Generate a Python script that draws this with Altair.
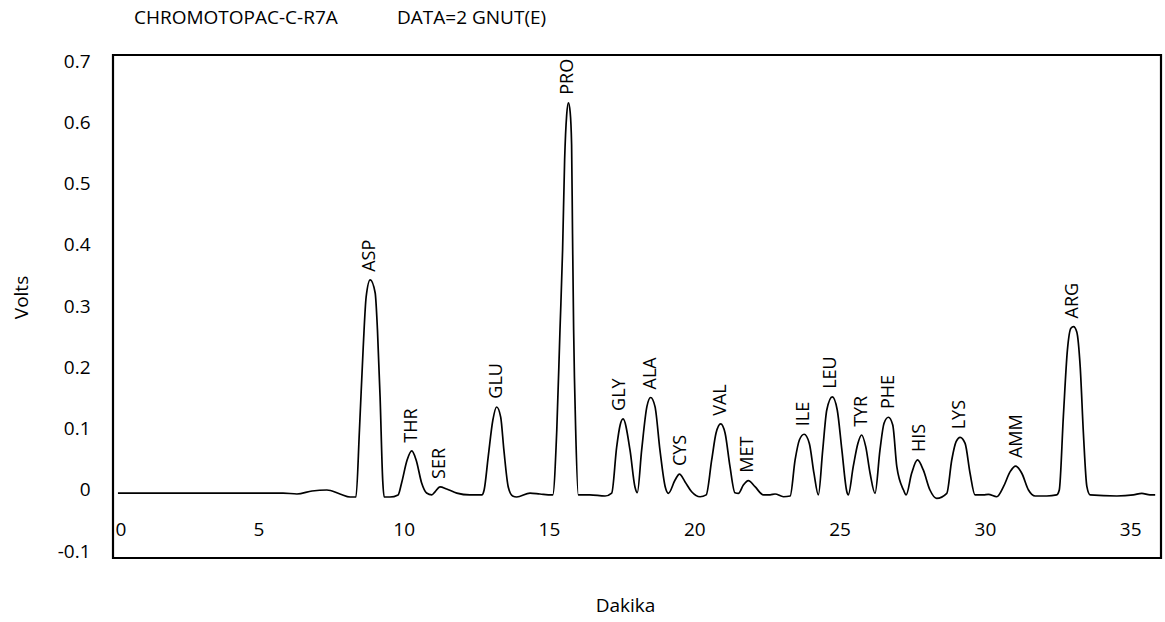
import altair as alt
import pandas as pd

# ---- chromatogram trace (minutes, volts) ----
retention_min = [
    0.17, 2.99, 5.85, 6.33, 6.85, 7.36, 7.81, 8.16,
    8.36, 8.48, 8.61, 8.71, 8.85, 9.02, 9.10, 9.19, 9.28, 9.33,
    9.53, 9.81, 9.93, 10.12, 10.28, 10.43, 10.62, 10.79, 10.97,
    11.08, 11.25, 11.48, 11.83, 12.28, 12.69,
    12.77, 12.91, 13.07, 13.20, 13.34, 13.45, 13.60, 13.75, 13.89,
    14.35, 14.69, 15.10,
    15.13, 15.27, 15.38, 15.47, 15.54, 15.61, 15.67, 15.73, 15.78, 15.81, 15.85, 15.92, 16.01,
    16.41, 16.93, 17.16,
    17.33, 17.45, 17.55, 17.79, 17.96, 18.04,
    18.19, 18.37, 18.50, 18.65, 18.82, 19.00, 19.11,
    19.34, 19.49, 19.68, 19.91, 20.20, 20.41,
    20.60, 20.75, 20.91, 21.06, 21.23, 21.40, 21.52,
    21.69, 21.86, 22.09, 22.38, 22.61, 22.78, 23.07, 23.30,
    23.47, 23.62, 23.78, 23.96, 24.12, 24.27,
    24.42, 24.56, 24.75, 24.92, 25.08, 25.25, 25.30,
    25.47, 25.63, 25.76, 25.90, 26.05, 26.22,
    26.39, 26.53, 26.68, 26.83, 26.97, 27.20, 27.29,
    27.48, 27.68, 27.88, 28.11, 28.34,
    28.69, 28.86, 29.01, 29.15, 29.32, 29.49, 29.66,
    29.95, 30.12, 30.41,
    30.64, 30.87, 31.06, 31.27, 31.50, 31.73, 32.13, 32.47,
    32.56, 32.70, 32.84, 32.96, 33.05, 33.16, 33.28, 33.39, 33.51, 33.62,
    34.54, 35.11, 35.40, 35.68, 35.86,
]
signal_volts = [
    -0.005, -0.005, -0.005, -0.0065, -0.0016, 0.0, -0.0065, -0.0114,
    -0.0114, 0.098, 0.2335, 0.315, 0.343, 0.322, 0.261, 0.152, 0.016, -0.0114,
    -0.0114, -0.008, 0.0114, 0.049, 0.0637, 0.049, 0.0114, -0.005, -0.008,
    -0.003, 0.005, 0.0016, -0.005, -0.008, -0.008,
    0.0, 0.054, 0.114, 0.1355, 0.119, 0.065, 0.005, -0.0098, -0.0114,
    -0.005, -0.0065, -0.008,
    -0.008, 0.098, 0.261, 0.392, 0.539, 0.612, 0.632, 0.617, 0.563, 0.4245, 0.261, 0.098, -0.008,
    -0.008, -0.0098, -0.005,
    0.070, 0.106, 0.116, 0.065, 0.005, -0.0044,
    0.065, 0.136, 0.151, 0.136, 0.065, 0.0054, -0.0054,
    0.0163, 0.026, 0.0136, -0.0028, -0.011, -0.008,
    0.049, 0.093, 0.108, 0.093, 0.038, -0.0044, -0.0054,
    0.008, 0.0152, 0.0054, -0.008, -0.008, -0.0065, -0.011, -0.0098,
    0.049, 0.082, 0.091, 0.076, 0.027, -0.008,
    0.065, 0.1306, 0.152, 0.1306, 0.065, -0.0028, -0.008,
    0.038, 0.076, 0.0898, 0.0707, 0.0273, -0.0054,
    0.065, 0.109, 0.1187, 0.106, 0.038, 0.0, -0.008,
    0.0273, 0.049, 0.0327, 0.0, -0.0136,
    -0.0054, 0.049, 0.079, 0.086, 0.076, 0.0273, -0.008,
    -0.008, -0.007, -0.011,
    0.0054, 0.030, 0.039, 0.0273, 0.0, -0.0098, -0.0098, -0.008,
    0.0, 0.1197, 0.2286, 0.264, 0.2666, 0.2584, 0.201, 0.0926, 0.0054, -0.008,
    -0.0098, -0.008, -0.0054, -0.008, -0.008,
]

# ---- peak labels (amino acid, apex time, apex height) ----
peak_names = ["ASP", "THR", "SER", "GLU", "PRO", "GLY", "ALA", "CYS", "VAL",
              "MET", "ILE", "LEU", "TYR", "PHE", "HIS", "LYS", "AMM", "ARG"]
peak_times = [8.85, 10.28, 11.25, 13.20, 15.67, 17.45, 18.50, 19.55, 20.91,
              21.86, 23.78, 24.72, 25.76, 26.70, 27.78, 29.15, 31.10, 33.02]
peak_heights = [0.343, 0.064, 0.005, 0.136, 0.632, 0.116, 0.151, 0.026, 0.108,
                0.015, 0.091, 0.152, 0.090, 0.119, 0.049, 0.086, 0.039, 0.267]

x_ticks = [0, 5, 10, 15, 20, 25, 30, 35]
y_ticks = [-0.1, 0, 0.1, 0.2, 0.3, 0.4, 0.5, 0.6, 0.7]

trace = pd.DataFrame({"t": retention_min, "v": signal_volts})
peaks = pd.DataFrame({"name": peak_names, "t": peak_times, "v": peak_heights})

FONT = "Open Sans"

x_scale = alt.Scale(domain=[0, 36.06], nice=False, zero=False)
y_scale = alt.Scale(domain=[-0.111, 0.71], nice=False, zero=False)

x_axis = alt.Axis(
    values=x_ticks, format="d", grid=False, domain=False, ticks=False, tickSize=0,
    labelPadding=-29, labelBaseline="middle", labelFlush=True, labelFlushOffset=-2,
    labelFontSize=19, labelFont=FONT, labelColor="black",
    title="Dakika", titleFont=FONT, titleFontSize=19, titleFontWeight="normal",
    titleColor="black", titleX=512, titleY=47, titleBaseline="middle", titleAlign="center",
)
y_axis = alt.Axis(
    values=y_ticks, grid=False, domain=False, ticks=False, tickSize=0,
    labelPadding=23, labelFontSize=19, labelFont=FONT, labelColor="black",
    labelExpr="datum.value == 0 ? '0' : (datum.value < 0 ? '-' + format(-datum.value, '.1f') : format(datum.value, '.1f'))",
    title="Volts", titleFont=FONT, titleFontSize=19, titleFontWeight="normal",
    titleColor="black", titleX=-92, titleY=242, titleBaseline="middle", titleAlign="center",
    titleAngle=270,
)

line = alt.Chart(trace).mark_line(
    color="black", strokeWidth=1.7, interpolate="monotone"
).encode(
    x=alt.X("t:Q", scale=x_scale, axis=x_axis),
    y=alt.Y("v:Q", scale=y_scale, axis=y_axis),
    order="t:Q",
)

labels = alt.Chart(peaks).mark_text(
    angle=270, align="left", baseline="middle", dx=8,
    font=FONT, fontSize=18, color="black",
).encode(
    x=alt.X("t:Q", scale=x_scale),
    y=alt.Y("v:Q", scale=y_scale),
    text="name:N",
)

chart = alt.layer(line, labels).properties(
    width=1048,
    height=503,
    autosize="none",
    padding={"left": 113, "top": 55, "right": 4, "bottom": 64},
    title=alt.TitleParams(
        text="CHROMOTOPAC-C-R7A" + "\u00a0" * 12 + "DATA=2 GNUT(E)",
        anchor="start", frame="group", dx=21, offset=24,
        font=FONT, fontSize=19, fontWeight="normal", color="black",
    ),
).configure(
    background="white",
    view=alt.ViewConfig(stroke="black", strokeWidth=2.2),
)

chart.save("out.html", embed_options={"renderer": "svg", "actions": False})
